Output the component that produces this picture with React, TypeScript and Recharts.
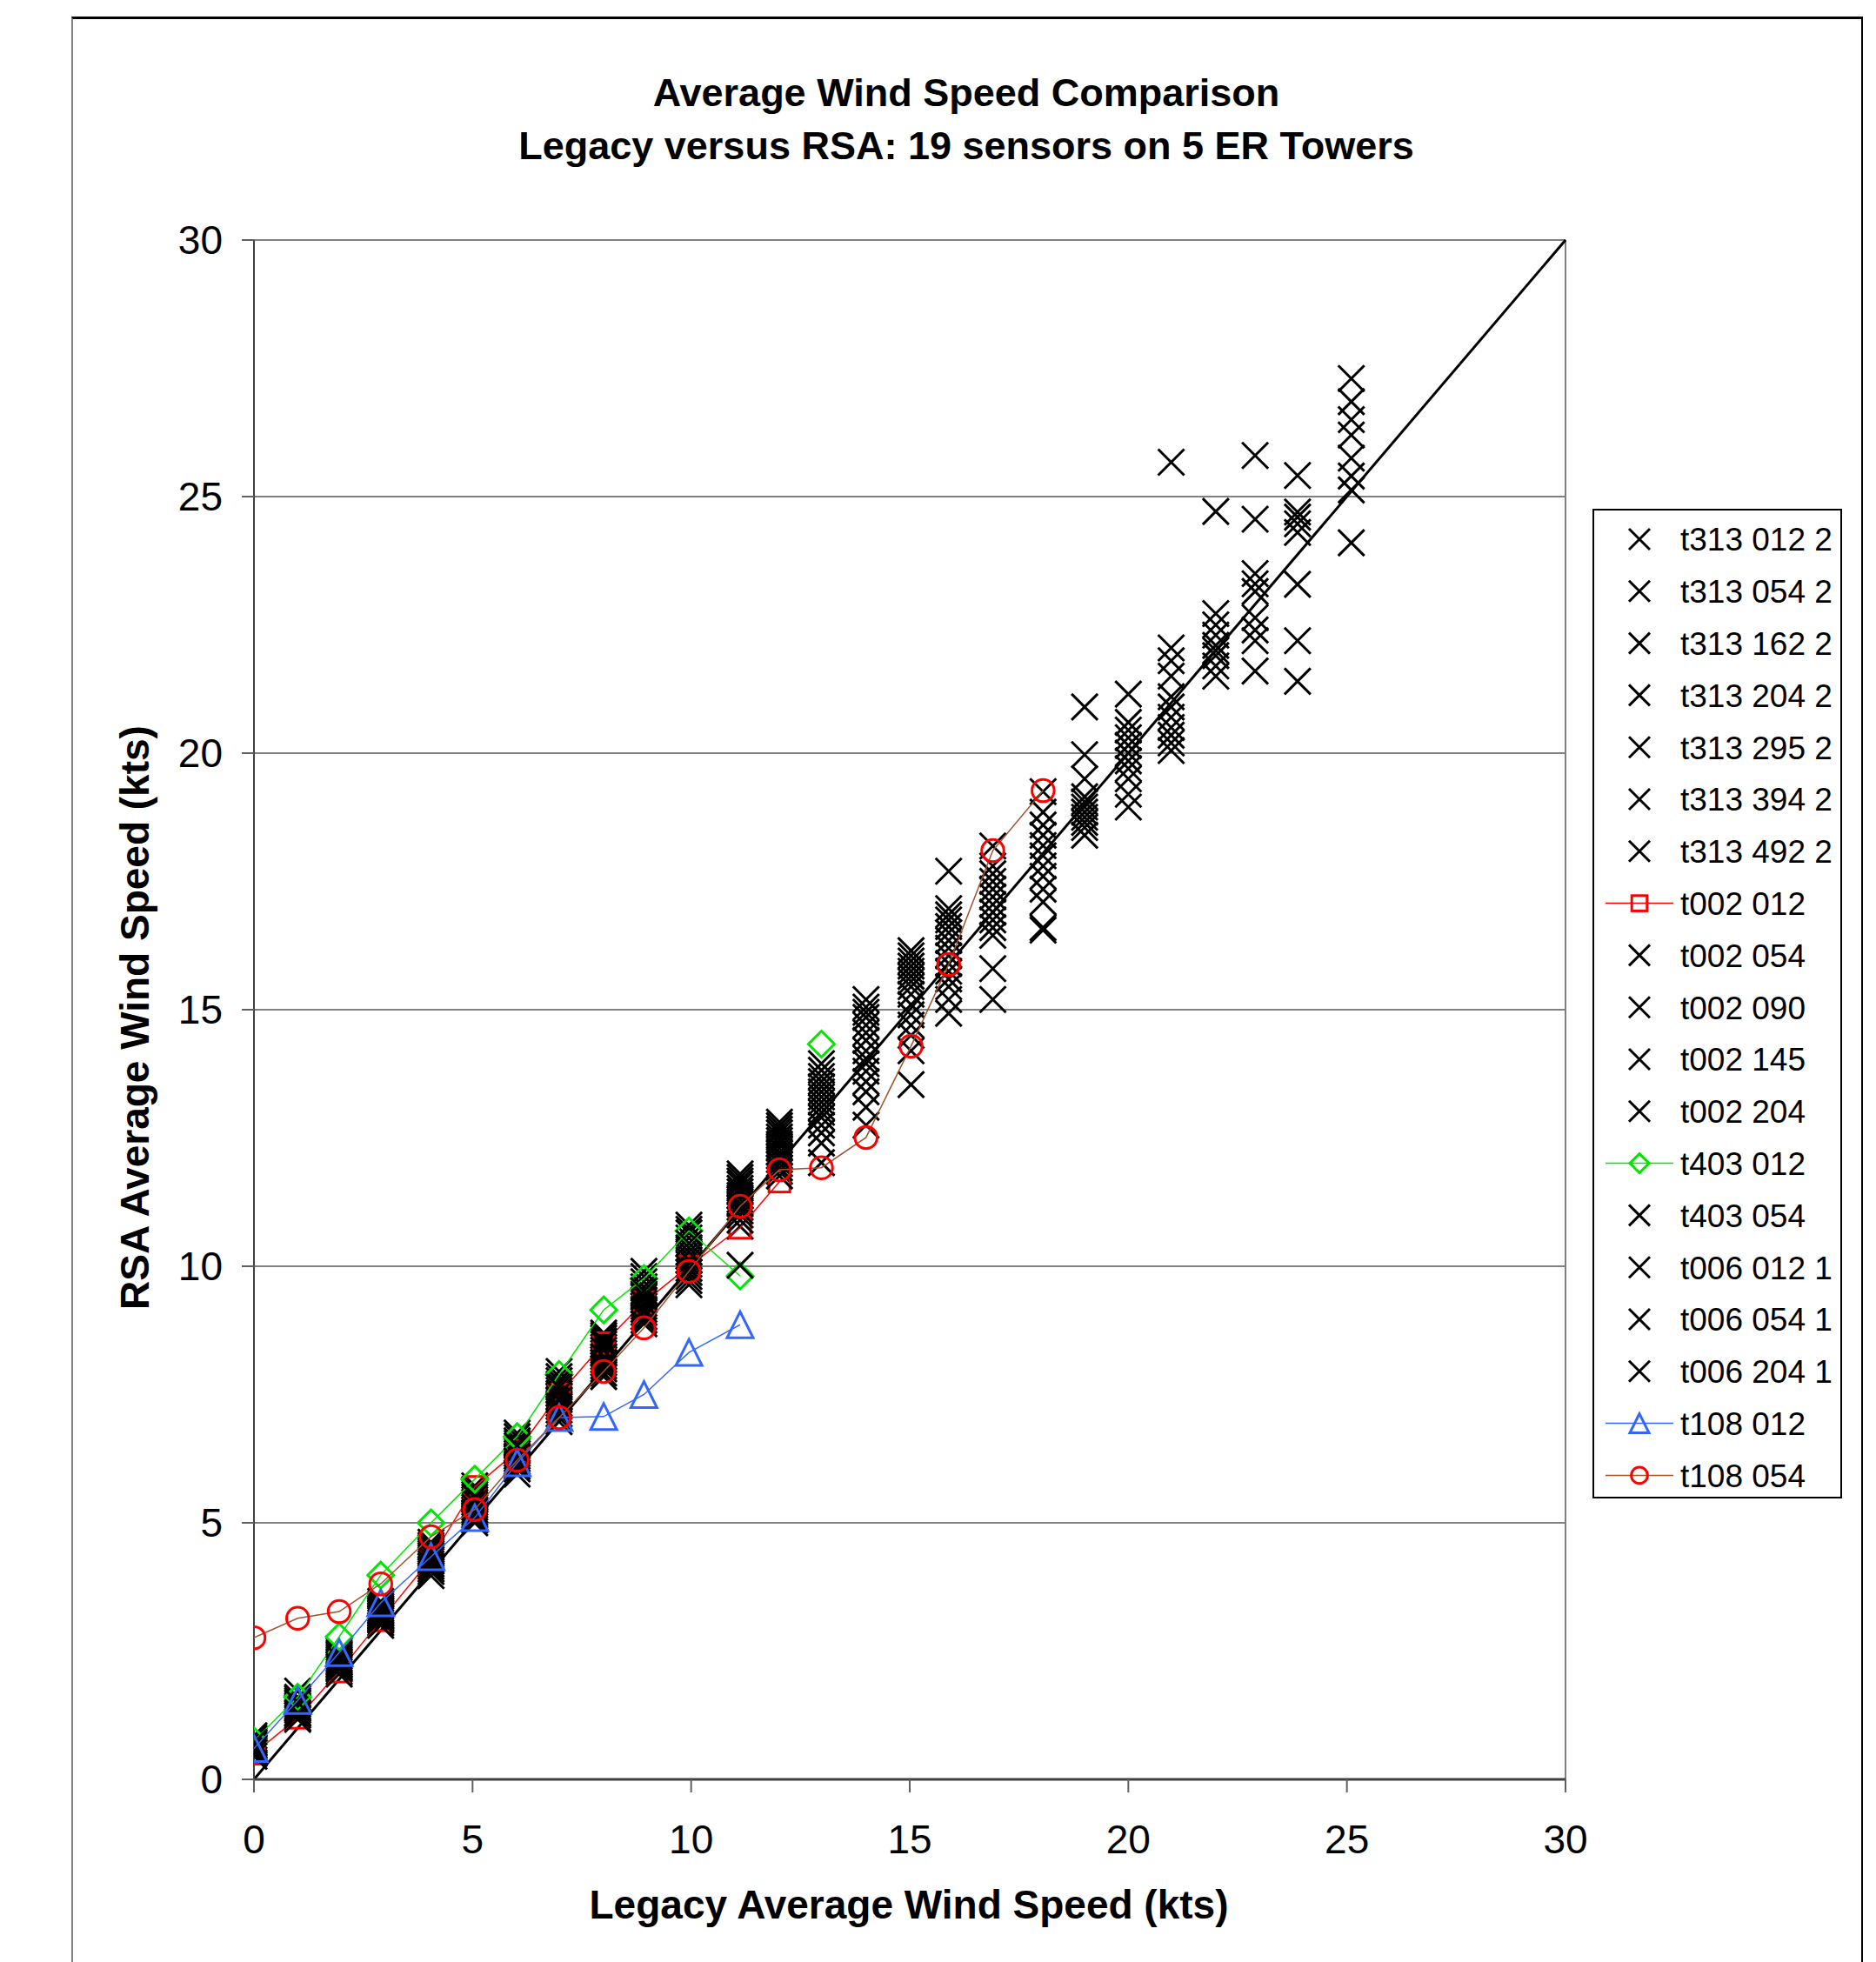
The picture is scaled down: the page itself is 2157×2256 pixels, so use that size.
import React from 'react';
import { ScatterChart, Scatter, XAxis, YAxis, CartesianGrid, ReferenceLine } from 'recharts';

const FONT = "'Liberation Sans', Arial, Helvetica, sans-serif";

// legacy speed bins (x) shared by every sensor
const bins = [0, 1.0, 1.95, 2.9, 4.05, 5.05, 6.02, 6.98, 8.0, 8.92, 9.95, 11.12, 12.02, 12.98, 14.0, 15.03, 15.89, 16.9, 18.05, 19.0, 20.0, 20.98, 22.0, 22.9, 23.87, 25.1];
const axisTicks = [0, 5, 10, 15, 20, 25, 30];

// RSA average per bin, one array per sensor
const t313_012_2 = [0.5, 1.2, 2.1, 3.05, 4.05, 5.05, 6.05, 7.05, 7.92, 8.95, 9.72, 10.78, 11.85, 12.4, 13.1, 14.2, 15.2, 15.2, 16.55, null, null, null, null, null, null, null];
const t313_054_2 = [0.6, 1.35, 2.23, 3.18, 4.25, 5.25, 6.25, 7.33, 8.18, 9.22, 10.04, 11.15, 12.15, 13.0, 13.95, 15.1, 15.9, 16.6, 17.1, 18.55, 19.2, 20.2, null, null, null, null];
const t313_162_2 = [0.65, 1.4, 2.28, 3.23, 4.32, 5.35, 6.35, 7.46, 8.3, 9.34, 10.2, 11.3, 12.3, 13.2, 14.2, 15.45, 16.2, 16.9, 17.6, 18.75, 19.7, 20.5, 21.7, 22.19, 21.4, 24.1];
const t313_204_2 = [0.7, 1.47, 2.33, 3.28, 4.4, 5.45, 6.45, 7.58, 8.42, 9.46, 10.36, 11.45, 12.45, 13.4, 14.55, 15.65, 16.5, 17.2, 18.0, 18.95, 20.0, 20.9, 22.0, 22.64, 23.29, 25.4];
const t313_295_2 = [0.78, 1.57, 2.43, 3.37, 4.52, 5.6, 6.6, 7.77, 8.6, 9.7, 10.65, 11.66, 12.67, 13.7, 14.95, 15.95, 16.85, 17.65, 18.6, 19.5, 20.45, 21.8, 22.5, 23.5, 24.6, 26.5];
const t313_394_2 = [0.8, 1.6, 2.46, 3.42, 4.56, 5.65, 6.68, 7.85, 8.65, 9.8, 10.72, 11.73, 12.74, 13.82, 15.05, 16.05, 16.97, 17.8, 18.85, 19.97, 20.6, 22.05, 22.72, 24.56, 24.7, 26.85];
const t313_492_2 = [0.85, 1.72, 2.5, 3.47, 4.62, 5.72, 6.75, 7.95, 8.7, 9.9, 10.8, 11.8, 12.81, 13.95, 15.2, 16.15, 17.7, 18.19, 19.25, 20.9, 21.15, 25.67, 24.71, 25.8, 25.41, 27.3];
const t002_012 = [0.5, 1.2, 2.1, 3.1, 4.3, 5.7, 6.4, 7.5, 8.5, 9.3, 10.0, 10.75, 11.65, null, null, null, null, null, null, null, null, null, null, null, null, null];
const t002_054 = [0.55, 1.28, 2.18, 3.13, 4.15, 5.15, 6.15, 7.2, 8.06, 9.1, 9.88, 11.0, 12.0, 12.75, 13.6, 14.7, 15.6, 16.45, 16.6, 18.4, 18.95, 20.05, null, null, null, null];
const t002_090 = [0.62, 1.38, 2.25, 3.2, 4.28, 5.3, 6.3, 7.4, 8.24, 9.28, 10.12, 11.22, 12.22, 13.1, 14.05, 15.3, 16.05, 16.75, 17.35, 18.65, 19.5, 20.35, 21.5, 21.6, null, null];
const t002_145 = [0.67, 1.43, 2.3, 3.25, 4.36, 5.4, 6.4, 7.52, 8.36, 9.4, 10.28, 11.38, 12.38, 13.3, 14.4, 15.55, 16.35, 17.05, 17.8, 18.85, 19.85, 20.7, 21.9, 22.4, 22.19, 25.13];
const t002_204 = [0.75, 1.53, 2.4, 3.33, 4.48, 5.55, 6.55, 7.7, 8.54, 9.6, 10.55, 11.6, 12.6, 13.6, 14.85, 15.85, 16.75, 17.5, 18.4, 19.15, 20.3, 21.5, 22.3, 23.3, 24.47, 26.2];
const t403_012 = [0.75, 1.6, 2.78, 3.98, 5.0, 5.85, 6.68, 7.89, 9.15, 9.76, 10.69, 9.81, null, 14.33, null, null, null, null, null, null, null, null, null, null, null, null];
const t403_054 = [0.52, 1.25, 2.15, 3.1, 4.1, 5.1, 6.1, 7.12, 8.0, 9.02, 9.8, 10.9, 11.92, 12.6, 13.4, 14.5, 15.45, 15.8, null, null, null, null, null, null, null, null];
const t006_012_1 = [0.45, 1.17, 2.05, 3.0, 3.97, 5.0, 5.95, 6.97, 7.85, 8.88, 9.64, 10.02, 11.76, 12.02, 12.75, 13.54, 14.93, null, null, null, null, null, null, null, null, null];
const t006_054_1 = [0.58, 1.3, 2.2, 3.15, 4.2, 5.2, 6.2, 7.27, 8.12, 9.16, 9.96, 11.08, 12.08, 12.9, 13.8, 14.9, 15.75, null, null, null, null, null, null, null, null, null];
const t006_204_1 = [0.72, 1.5, 2.36, 3.3, 4.44, 5.5, 6.5, 7.64, 8.48, 9.52, 10.45, 11.52, 12.52, 13.5, 14.7, 15.75, 16.62, 17.35, 18.2, 19.05, 20.15, 21.1, 22.1, 23.15, 24.3, 25.75];
const t108_012 = [0.6, 1.54, 2.47, 3.44, 4.34, 5.1, 6.17, 7.05, 7.07, 7.5, 8.32, 8.86, null, null, null, null, null, null, null, null, null, null, null, null, null, null];
const t108_054 = [2.76, 3.14, 3.27, 3.81, 4.73, 5.26, 6.22, 7.05, 7.95, 8.8, 9.9, 11.17, 11.88, 11.92, 12.51, 14.29, 15.88, 18.1, 19.27, null, null, null, null, null, null, null];

type Kind = 'x' | 'square' | 'diamond' | 'triangle' | 'circle';

interface SeriesDef {
  name: string;
  values: (number | null)[];
  kind: Kind;
  color: string;
  lineColor?: string;
}

const BLACK = '#000000';

const series: SeriesDef[] = [
  { name: 't313 012 2', values: t313_012_2, kind: 'x', color: BLACK },
  { name: 't313 054 2', values: t313_054_2, kind: 'x', color: BLACK },
  { name: 't313 162 2', values: t313_162_2, kind: 'x', color: BLACK },
  { name: 't313 204 2', values: t313_204_2, kind: 'x', color: BLACK },
  { name: 't313 295 2', values: t313_295_2, kind: 'x', color: BLACK },
  { name: 't313 394 2', values: t313_394_2, kind: 'x', color: BLACK },
  { name: 't313 492 2', values: t313_492_2, kind: 'x', color: BLACK },
  { name: 't002 012', values: t002_012, kind: 'square', color: '#ff0000', lineColor: '#ff0000' },
  { name: 't002 054', values: t002_054, kind: 'x', color: BLACK },
  { name: 't002 090', values: t002_090, kind: 'x', color: BLACK },
  { name: 't002 145', values: t002_145, kind: 'x', color: BLACK },
  { name: 't002 204', values: t002_204, kind: 'x', color: BLACK },
  { name: 't403 012', values: t403_012, kind: 'diamond', color: '#00e600', lineColor: '#00e600' },
  { name: 't403 054', values: t403_054, kind: 'x', color: BLACK },
  { name: 't006 012 1', values: t006_012_1, kind: 'x', color: BLACK },
  { name: 't006 054 1', values: t006_054_1, kind: 'x', color: BLACK },
  { name: 't006 204 1', values: t006_204_1, kind: 'x', color: BLACK },
  { name: 't108 012', values: t108_012, kind: 'triangle', color: '#3366ff', lineColor: '#3366ff' },
  { name: 't108 054', values: t108_054, kind: 'circle', color: '#ff0000', lineColor: '#a0522d' },
];

// split at missing bins so connecting lines break like the original
function segments(values: (number | null)[]) {
  const out: { x: number; y: number }[][] = [];
  let cur: { x: number; y: number }[] = [];
  values.forEach((v, i) => {
    if (v == null) {
      if (cur.length) out.push(cur);
      cur = [];
    } else {
      cur.push({ x: bins[i], y: v });
    }
  });
  if (cur.length) out.push(cur);
  return out;
}

function Marker({ kind, cx, cy, color, size }: { kind: Kind; cx: number; cy: number; color: string; size: number }) {
  const h = size / 2;
  if (kind === 'x') {
    return (
      <path
        d={`M${cx - h},${cy - h}L${cx + h},${cy + h}M${cx - h},${cy + h}L${cx + h},${cy - h}`}
        stroke={color}
        strokeWidth={3}
        fill="none"
      />
    );
  }
  if (kind === 'square') {
    const q = h * 0.8;
    return <rect x={cx - q} y={cy - q} width={q * 2} height={q * 2} stroke={color} strokeWidth={3} fill="none" />;
  }
  if (kind === 'diamond') {
    return (
      <path d={`M${cx},${cy - h}L${cx + h},${cy}L${cx},${cy + h}L${cx - h},${cy}Z`} stroke={color} strokeWidth={3} fill="none" />
    );
  }
  if (kind === 'triangle') {
    return (
      <path d={`M${cx},${cy - h}L${cx + h},${cy + h}L${cx - h},${cy + h}Z`} stroke={color} strokeWidth={3} fill="none" />
    );
  }
  return <circle cx={cx} cy={cy} r={h * 0.85} stroke={color} strokeWidth={3} fill="none" />;
}

function LegendBox() {
  const rowH = 59.8;
  return (
    <svg
      width={290}
      height={1140}
      style={{ position: 'absolute', left: 1831, top: 585 }}
    >
      <rect x={1} y={1} width={285} height={1136} fill="#fff" stroke="#000" strokeWidth={2} />
      {series.map((s, i) => {
        const y = 35 + i * rowH;
        return (
          <g key={s.name}>
            {s.lineColor && <line x1={15} x2={93} y1={y} y2={y} stroke={s.lineColor} strokeWidth={1.5} />}
            <Marker kind={s.kind} cx={54} cy={y} color={s.color} size={s.kind === 'x' ? 24 : 22} />
            <text x={101} y={y} dy="0.36em" fontFamily={FONT} fontSize={37} fill="#000">
              {s.name}
            </text>
          </g>
        );
      })}
    </svg>
  );
}

export default function App() {
  const tickStyle = { fontSize: 46, fontFamily: FONT, fill: '#000' };
  return (
    <div style={{ position: 'relative', width: 2157, height: 2256, background: '#fff', overflow: 'hidden' }}>
      <style>{'body{margin:0}'}</style>
      <div
        style={{
          position: 'absolute',
          left: 82,
          top: 19,
          width: 2056,
          height: 2300,
          borderTop: '3px solid #000',
          borderRight: '2px solid #000',
          borderLeft: '2px solid #808080',
        }}
      />
      <ScatterChart width={2157} height={2256} margin={{ top: 276, right: 357, bottom: 110, left: 192 }}>
        <CartesianGrid vertical={false} stroke="#808080" strokeWidth={2} fill="none" />
        <XAxis
          type="number"
          dataKey="x"
          domain={[0, 30]}
          ticks={axisTicks}
          height={100}
          tick={tickStyle}
          tickSize={15}
          tickMargin={37}
          tickLine={{ stroke: '#606060', strokeWidth: 2 }}
          axisLine={{ stroke: '#404040', strokeWidth: 3 }}
          allowDataOverflow
        />
        <YAxis
          type="number"
          dataKey="y"
          domain={[0, 30]}
          ticks={axisTicks}
          width={100}
          tick={tickStyle}
          tickSize={14}
          tickMargin={22}
          tickLine={{ stroke: '#606060', strokeWidth: 2 }}
          axisLine={{ stroke: '#404040', strokeWidth: 2 }}
          allowDataOverflow
        />
        <ReferenceLine x={30} stroke="#808080" strokeWidth={2} />
        {series.flatMap((s, si) =>
          segments(s.values).map((seg, k) => (
            <Scatter
              key={`${si}-${k}`}
              name={s.name}
              data={seg}
              isAnimationActive={false}
              line={s.lineColor && seg.length > 1 ? { stroke: s.lineColor, strokeWidth: 1.5 } : false}
              shape={(p: any) => <Marker kind={s.kind} cx={p.cx} cy={p.cy} color={s.color} size={30} />}
            />
          ))
        )}
        <ReferenceLine
          segment={[
            { x: 0, y: 0 },
            { x: 30, y: 30 },
          ]}
          stroke="#000"
          strokeWidth={3}
        />
      </ScatterChart>
      <div
        style={{
          position: 'absolute',
          left: 1111,
          top: 106,
          transform: 'translate(-50%, -50%)',
          fontFamily: FONT,
          fontWeight: 'bold',
          fontSize: 45,
          lineHeight: '45px',
          whiteSpace: 'nowrap',
          textAlign: 'center',
        }}
      >
        Average Wind Speed Comparison
      </div>
      <div
        style={{
          position: 'absolute',
          left: 1111,
          top: 167,
          transform: 'translate(-50%, -50%)',
          fontFamily: FONT,
          fontWeight: 'bold',
          fontSize: 45,
          lineHeight: '45px',
          whiteSpace: 'nowrap',
        }}
      >
        Legacy versus RSA: 19 sensors on 5 ER Towers
      </div>
      <div
        style={{
          position: 'absolute',
          left: 1045,
          top: 2190,
          transform: 'translate(-50%, -50%)',
          fontFamily: FONT,
          fontWeight: 'bold',
          fontSize: 46,
          lineHeight: '46px',
          whiteSpace: 'nowrap',
        }}
      >
        Legacy Average Wind Speed (kts)
      </div>
      <div
        style={{
          position: 'absolute',
          left: 155,
          top: 1170,
          transform: 'translate(-50%, -50%) rotate(-90deg)',
          fontFamily: FONT,
          fontWeight: 'bold',
          fontSize: 46,
          lineHeight: '46px',
          whiteSpace: 'nowrap',
        }}
      >
        RSA Average Wind Speed (kts)
      </div>
      <LegendBox />
    </div>
  );
}
